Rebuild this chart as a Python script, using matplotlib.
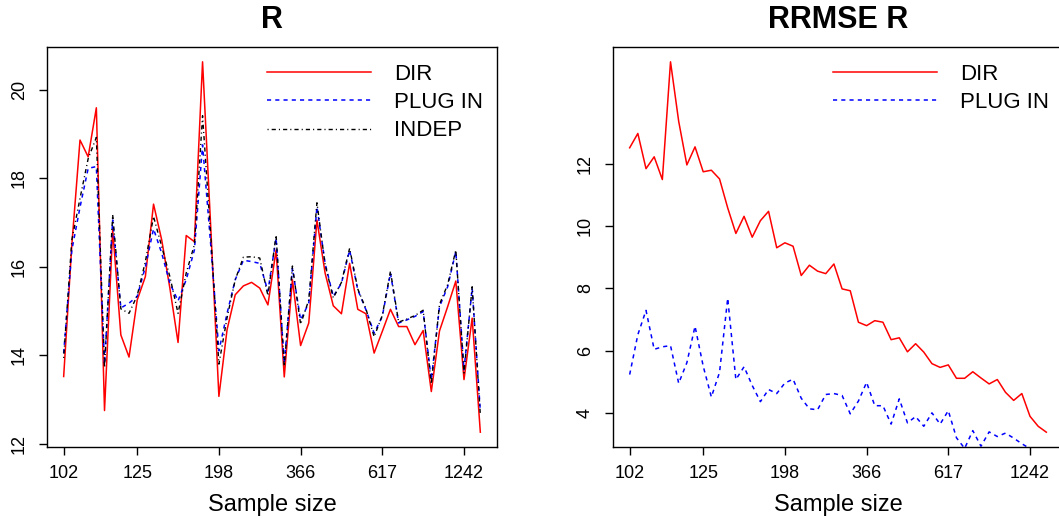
import numpy as np
import matplotlib
matplotlib.use("Agg")
import matplotlib.pyplot as plt

plt.rcParams['font.family'] = ['Liberation Sans', 'DejaVu Sans']

# x positions are the area index (sorted by sample size), ticks show sample size
tick_idx = [1, 10, 20, 30, 40, 50]
tick_lab = ['102', '125', '198', '366', '617', '1242']

# panel 1: estimates of R
r_dir = [13.52, 16.50, 18.87, 18.49, 19.60, 12.75, 16.84, 14.46, 13.96, 15.25,
         15.78, 17.42, 16.61, 15.52, 14.29, 16.71, 16.57, 20.64, 16.90, 13.07,
         14.58, 15.37, 15.57, 15.65, 15.52, 15.14, 16.38, 13.51, 15.71, 14.22,
         14.73, 17.06, 15.86, 15.12, 14.94, 16.08, 15.04, 14.94, 14.05, 14.54,
         15.04, 14.65, 14.65, 14.24, 14.56, 13.18, 14.55, 15.10, 15.68, 13.45,
         14.84, 12.26]
r_plug = [14.05, 16.38, 17.35, 18.23, 18.27, 13.80, 17.06, 15.07, 15.18, 15.33,
          16.00, 16.86, 16.31, 15.63, 15.23, 15.71, 16.38, 18.76, 16.50, 14.10,
          14.95, 15.71, 16.15, 16.12, 16.08, 15.45, 16.65, 13.82, 15.97, 14.80,
          15.18, 17.36, 16.08, 15.33, 15.63, 16.38, 15.48, 15.03, 14.50, 14.88,
          15.86, 14.73, 14.80, 14.88, 14.99, 13.45, 15.10, 15.55, 16.35, 13.67,
          15.52, 12.73]
r_indep = [13.94, 16.61, 17.55, 18.45, 18.93, 13.72, 17.18, 15.05, 14.95, 15.35,
           16.12, 17.14, 16.46, 15.78, 14.95, 15.86, 16.50, 19.42, 16.70, 13.80,
           14.85, 15.71, 16.22, 16.23, 16.20, 15.35, 16.72, 13.75, 16.02, 14.70,
           15.25, 17.45, 16.05, 15.30, 15.65, 16.42, 15.50, 15.05, 14.42, 14.90,
           15.90, 14.75, 14.82, 14.90, 15.02, 13.35, 15.15, 15.60, 16.38, 13.60,
           15.55, 12.65]

# panel 2: RRMSE of R
rr_dir = [12.51, 12.97, 11.84, 12.22, 11.49, 15.27, 13.36, 11.96, 12.54, 11.74,
          11.79, 11.51, 10.58, 9.76, 10.31, 9.64, 10.17, 10.47, 9.30, 9.46,
          9.35, 8.41, 8.74, 8.55, 8.47, 8.78, 7.98, 7.92, 6.91, 6.80,
          6.96, 6.91, 6.35, 6.41, 5.96, 6.22, 5.95, 5.58, 5.46, 5.54,
          5.11, 5.11, 5.32, 5.12, 4.93, 5.07, 4.66, 4.40, 4.62, 3.89,
          3.57, 3.38]
rr_plug = [5.23, 6.51, 7.29, 6.04, 6.12, 6.16, 4.95, 5.61, 6.78, 5.50,
           4.51, 5.30, 7.68, 5.07, 5.48, 4.88, 4.36, 4.75, 4.62, 4.96,
           5.08, 4.47, 4.13, 4.10, 4.59, 4.62, 4.56, 3.97, 4.38, 4.98,
           4.23, 4.23, 3.64, 4.45, 3.68, 3.88, 3.57, 4.00, 3.64, 4.07,
           3.20, 2.86, 3.43, 2.93, 3.39, 3.24, 3.35, 3.19, 3.01, 2.85,
           2.60, 2.50]

idx = np.arange(1, len(r_dir) + 1)

W, H = 1059, 518
fig = plt.figure(figsize=(W / 100, H / 100), dpi=100)
ax1 = fig.add_axes([47 / W, 71 / H, 450 / W, 400 / H])
ax2 = fig.add_axes([613 / W, 71 / H, 450 / W, 400 / H])

dash = (0, (2.7, 2.7))
dotdash = (0, (0.8, 2.2, 3.0, 2.2))

ax1.plot(idx, r_dir, color='#ff0000', lw=1.1, ls='-', label='DIR')
ax1.plot(idx, r_plug, color='#0000ff', lw=1.1, ls=dash, label='PLUG IN')
ax1.plot(idx, r_indep, color='black', lw=1.0, ls=dotdash, label='INDEP')
ax1.margins(x=0.04, y=0.04)
ax1.set_yticks([12, 14, 16, 18, 20])

ax2.plot(idx, rr_dir, color='#ff0000', lw=1.1, ls='-', label='DIR')
ax2.plot(idx, rr_plug, color='#0000ff', lw=1.1, ls=dash, label='PLUG IN')
ax2.margins(x=0.04)
lo, hi = min(rr_dir), max(rr_dir)
ax2.set_ylim(lo - 0.04 * (hi - lo), hi + 0.04 * (hi - lo))
ax2.set_yticks([4, 6, 8, 10, 12])

for ax, title in [(ax1, 'R'), (ax2, 'RRMSE R')]:
    ax.set_xticks(tick_idx)
    ax.set_xticklabels(tick_lab)
    ax.tick_params(axis='both', direction='out', length=5.8, width=1.0,
                   labelsize=13, color='black')
    ax.tick_params(axis='x', pad=7)
    ax.tick_params(axis='y', labelrotation=90, pad=8)
    for lab in ax.get_yticklabels():
        lab.set_va('center')
    for s in ax.spines.values():
        s.set_linewidth(1.0)
    ax.set_title(title, fontsize=22, fontweight='bold', pad=14)
    ax.set_xlabel('Sample size', fontsize=17, labelpad=9)
    ax.legend(loc='upper left', bbox_to_anchor=(0.489, 0.958), frameon=False,
              fontsize=16, handlelength=4.7, handletextpad=1.0,
              borderpad=0, borderaxespad=0, labelspacing=0.33)

fig.savefig('out.png', dpi=100)
